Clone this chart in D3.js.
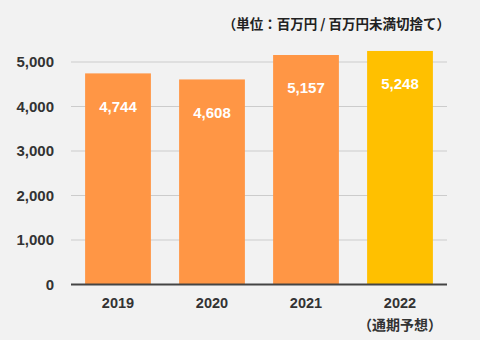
<!DOCTYPE html>
<html><head><meta charset="utf-8">
<script src="https://cdn.jsdelivr.net/npm/d3@7"></script>
<style>
html,body{margin:0;padding:0;background:#f2f2f2;}
svg{display:block;font-family:"Noto Sans CJK JP","Noto Sans",sans-serif;}
</style></head><body>
<svg id="c" width="480" height="340"></svg>
<script>
const categories = ["2019","2020","2021","2022"];
const subLabels = ["","","","（通期予想）"];
const values = [4744, 4608, 5157, 5248];
const valueLabels = ["4,744","4,608","5,157","5,248"];
const tickValues = [0,1000,2000,3000,4000,5000];
const barColors = ["#ff9645","#ff9645","#ff9645","#ffc000"];
const unitText = "（単位：百万円 / 百万円未満切捨て）";

const svg = d3.select("#c");
const x = d3.scaleBand().domain(categories).range([71,447]).paddingInner(0.3).paddingOuter(0.15);
const y = d3.scaleLinear().domain([0,5000]).range([284.5,62]);

svg.append("g").selectAll("line").data(tickValues.filter(d=>d>0)).join("line")
  .attr("x1",71).attr("x2",447).attr("y1",d=>y(d)).attr("y2",d=>y(d))
  .attr("stroke","#cccccc").attr("stroke-width",1);

svg.append("g").selectAll("text").data(tickValues).join("text")
  .attr("x",54).attr("y",d=>y(d)).attr("dy","0.36em").attr("text-anchor","end")
  .attr("font-size",15).attr("font-weight","bold").attr("fill","#333")
  .style("font-family","'Liberation Sans',Arial,sans-serif")
  .text(d=>d3.format(",")(d));

svg.append("g").selectAll("rect").data(values).join("rect")
  .attr("x",(d,i)=>x(categories[i])).attr("width",x.bandwidth())
  .attr("y",d=>y(d)).attr("height",d=>y(0)-y(d))
  .attr("fill",(d,i)=>barColors[i]);

svg.append("g").selectAll("text").data(values).join("text")
  .attr("x",(d,i)=>x(categories[i])+x.bandwidth()/2).attr("y",d=>y(d)+33).attr("dy","0.36em")
  .attr("text-anchor","middle").attr("font-size",15).attr("font-weight","bold").attr("fill","#fff")
  .style("font-family","'Liberation Sans',Arial,sans-serif")
  .text((d,i)=>valueLabels[i]);

svg.append("line").attr("x1",71).attr("x2",447).attr("y1",y(0)).attr("y2",y(0))
  .attr("stroke","#444").attr("stroke-width",2);

svg.append("g").selectAll("text").data(categories).join("text")
  .attr("x",d=>x(d)+x.bandwidth()/2).attr("y",303).attr("dy","0.36em")
  .attr("text-anchor","middle").attr("font-size",14.5).attr("font-weight","bold").attr("fill","#333")
  .style("font-family","'Liberation Sans',Arial,sans-serif")
  .text(d=>d);
svg.append("g").selectAll("text").data(subLabels).join("text")
  .attr("x",(d,i)=>x(categories[i])+x.bandwidth()/2).attr("y",325).attr("dy","0.36em")
  .attr("text-anchor","middle").attr("font-size",14).attr("font-weight","bold").attr("fill","#333")
  .text(d=>d);

svg.append("text").attr("x",450).attr("y",24).attr("dy","0.36em").attr("text-anchor","end")
  .attr("font-size",13.5).attr("font-weight","bold").attr("fill","#222").text(unitText);
</script></body></html>
